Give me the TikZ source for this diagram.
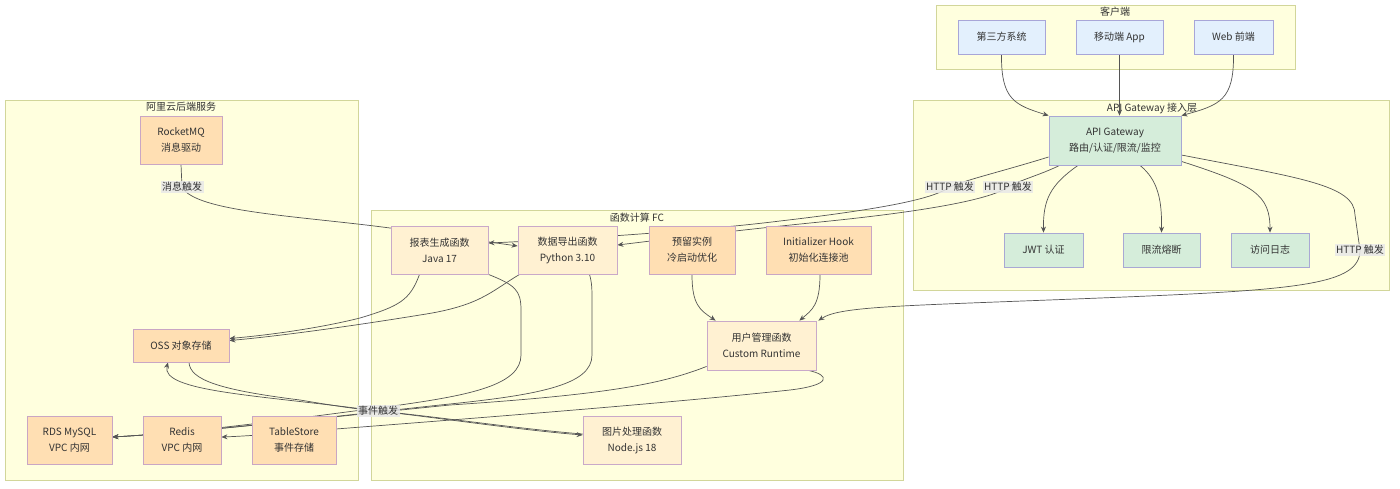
\documentclass[tikz,border=0pt]{standalone}
\usepackage{fontspec}
\setmainfont{Noto Sans CJK SC}
\usetikzlibrary{arrows.meta,calc}
\pgfdeclarelayer{bg}\pgfdeclarelayer{edges}\pgfdeclarelayer{fg}
\pgfsetlayers{bg,edges,main,fg}
\definecolor{clfill}{HTML}{FFFFDE}
\definecolor{cldraw}{HTML}{D2D69A}
\definecolor{txt}{HTML}{333333}
\definecolor{lineC}{HTML}{555555}
\definecolor{blueF}{HTML}{E3F0FD}
\definecolor{blueD}{HTML}{A8A6D8}
\definecolor{greenF}{HTML}{D5EDDA}
\definecolor{greenD}{HTML}{A9A8D4}
\definecolor{orangeF}{HTML}{FFDFB3}
\definecolor{orangeD}{HTML}{C9A6C4}
\definecolor{lightF}{HTML}{FFF1D2}
\definecolor{lightD}{HTML}{C9A9C9}
\definecolor{labF}{HTML}{E8E8E8}
\begin{document}
\begin{tikzpicture}[x=1pt,y=-1pt,
  every node/.style={font=\fontsize{10}{16}\selectfont, text=txt},
  cluster/.style={fill=clfill, draw=cldraw, line width=0.9pt},
  ctitle/.style={inner sep=0pt},
  box/.style={draw, line width=0.8pt, inner sep=0pt, align=center},
  bluebox/.style={box, fill=blueF, draw=blueD},
  greenbox/.style={box, fill=greenF, draw=greenD},
  orangebox/.style={box, fill=orangeF, draw=orangeD},
  lightbox/.style={box, fill=lightF, draw=lightD},
  elabel/.style={fill=labF, fill opacity=0.85, text opacity=1, inner sep=1.5pt},
  edge/.style={draw=lineC, line width=0.7pt, -{Stealth[length=6pt,width=5pt]}}
]
\useasboundingbox (0,0) rectangle (1400,488);

% clusters
\begin{pgfonlayer}{bg}
\fill[white] (0,0) rectangle (1400,488);
\draw[cluster] (936,5) rectangle (1295,69);
\node[ctitle] (tClient) at (1115,12) {客户端};
\draw[cluster] (913,100) rectangle (1389,290);
\node[ctitle] (tGw) at (1152,108) {API Gateway 接入层};
\draw[cluster] (5,100) rectangle (358,480);
\node[ctitle] (tAli) at (181,107) {阿里云后端服务};
\draw[cluster] (371,210) rectangle (903,480);
\node[ctitle] (tFc) at (637,218) {函数计算 FC};
\end{pgfonlayer}

% nodes
\node[bluebox, minimum width=87pt, minimum height=34pt] (third) at (1001.5,37) {第三方系统};
\node[bluebox, minimum width=87pt, minimum height=34pt] (mobile) at (1119.5,37) {移动端 App};
\node[bluebox, minimum width=79pt, minimum height=34pt] (web) at (1233.5,37) {Web 前端};
\node[greenbox, minimum width=132pt, minimum height=49pt] (apigw) at (1115,140.5) {API Gateway\\路由/认证/限流/监控};
\node[greenbox, minimum width=79pt, minimum height=34pt] (jwt) at (1043.5,250) {JWT 认证};
\node[greenbox, minimum width=77pt, minimum height=34pt] (limit) at (1161.5,250) {限流熔断};
\node[greenbox, minimum width=78pt, minimum height=34pt] (alog) at (1270,250) {访问日志};

\node[orangebox, minimum width=82pt, minimum height=48pt] (mq) at (181,140) {RocketMQ\\消息驱动};
\node[orangebox, minimum width=96pt, minimum height=33pt] (oss) at (181,345.5) {OSS 对象存储};
\node[orangebox, minimum width=85pt, minimum height=48pt] (rds) at (69.5,440) {RDS MySQL\\VPC 内网};
\node[orangebox, minimum width=78pt, minimum height=48pt] (redis) at (182,440) {Redis\\VPC 内网};
\node[orangebox, minimum width=84pt, minimum height=48pt] (ts) at (294,440) {TableStore\\事件存储};

\node[lightbox, minimum width=97pt, minimum height=48pt] (report) at (439.5,250) {报表生成函数\\Java 17};
\node[lightbox, minimum width=99pt, minimum height=48pt] (export) at (567.5,250) {数据导出函数\\Python 3.10};
\node[orangebox, minimum width=86pt, minimum height=48pt] (reserve) at (692,250) {预留实例\\冷启动优化};
\node[orangebox, minimum width=105pt, minimum height=48pt] (init) at (818.5,250) {Initializer Hook\\初始化连接池};
\node[lightbox, minimum width=109pt, minimum height=49pt] (user) at (761.5,345.5) {用户管理函数\\Custom Runtime};
\node[lightbox, minimum width=98pt, minimum height=48pt] (img) at (632,440) {图片处理函数\\Node.js 18};

% edge labels
\begin{pgfonlayer}{fg}
\node[elabel] (m1) at (182,187) {消息触发};
\node[elabel] (h1) at (950,187) {HTTP 触发};
\node[elabel] (h2) at (1008,187) {HTTP 触发};
\node[elabel] (h3) at (1360,250) {HTTP 触发};
\node[elabel] (e1) at (378,411) {事件触发};
\end{pgfonlayer}

\begin{pgfonlayer}{edges}
% clients -> gateway
\draw[edge] (third.south) .. controls (1001,100) and (1015,105) .. (apigw.north west);
\draw[edge] (mobile.south) -- (mobile.south |- apigw.north);
\draw[edge] (web.south) .. controls (1234,100) and (1220,105) .. (apigw.north east);
% gateway -> plugins
\draw[edge] ($(apigw.south)+(-37,0)$) .. controls (1050,185) and (1043,200) .. (jwt.north);
\draw[edge] ($(apigw.south)+(25,0)$) .. controls (1158,180) and (1162,200) .. (limit.north);
\draw[edge] ($(apigw.south east)+(0,-4)$) .. controls (1255,185) and (1270,195) .. (alog.north);
% HTTP triggers
\draw[edge] ($(apigw.west)+(0,16.5)$) .. controls (1000,172) and (965,180) .. (h1.center)
   .. controls (935,197) and (900,207) .. (780,221)
   .. controls (700,231) and (560,240) .. ($(report.east)+(0,-7)$);
\draw[edge] ($(apigw.south west)+(11,0)$) .. controls (1040,175) and (1020,180) .. (h2.center)
   .. controls (990,200) and (920,212) .. (820,222)
   .. controls (720,232) and (660,240) .. ($(export.east)+(0,-5)$);
\draw[edge] ($(apigw.east)+(0,14.5)$) .. controls (1300,178) and (1355,185) .. (1355,215)
   -- (h3.center) .. controls (1360,285) and (1300,290) .. (1100,298)
   .. controls (900,306) and (840,306) .. ($(user.north east)+(2,0)$);
% message trigger
\draw[edge] (mq.south) -- (m1.center) .. controls (195,212) and (300,216) .. (390,228)
   -- ($(export.west)+(0,-4)$);
% FC internals
\draw[edge] (reserve.south) .. controls (692,305) and (700,310) .. ($(user.north west)+(9,0)$);
\draw[edge] ($(init.south)+(1.5,0)$) .. controls (820,305) and (812,310) .. ($(user.north east)+(-17,0)$);
% to OSS
\draw[edge] ($(report.south)+(-20,0)$) .. controls (410,300) and (400,306) .. (360,318)
   .. controls (320,328) and (270,335) .. ($(oss.east)+(0,-7)$);
\draw[edge] ($(export.south west)+(2,0)$) .. controls (490,292) and (480,306) .. (420,315)
   .. controls (340,328) and (270,337) .. ($(oss.east)+(0,-5)$);
% to RDS
\draw[edge] (report.south east) .. controls (515,285) and (521,290) .. (521,310) -- (521,355)
   .. controls (521,385) and (470,395) .. (400,405)
   .. controls (300,418) and (200,432) .. ($(rds.east)+(0,-3)$);
\draw[edge] ($(export.south)+(22,0)$) .. controls (592,283) and (592,290) .. (592,300) -- (592,355)
   .. controls (592,385) and (540,395) .. (440,405)
   .. controls (320,418) and (200,432) .. ($(rds.east)+(0,-3)$);
\draw[edge] ($(user.south west)+(0,-4)$) .. controls (660,385) and (600,395) .. (450,405)
   .. controls (320,418) and (200,432) .. ($(rds.east)+(0,-3)$);
% to Redis
\draw[edge] ($(user.south east)+(-8,0)$) .. controls (830,375) and (832,385) .. (790,390)
   .. controls (650,405) and (450,420) .. (336,429)
   .. controls (300,432) and (250,436) .. ($(redis.east)+(0,-3)$);
% OSS <-> image
\draw[edge] ($(oss.south)+(8,0)$) .. controls (190,380) and (220,390) .. (300,400)
   .. controls (330,405) and (355,409) .. (e1.center)
   .. controls (440,418) and (520,430) .. ($(img.west)+(0,-5)$);
\draw[edge] ($(img.west)+(0,-6)$) .. controls (520,429) and (440,417) .. (e1.center)
   .. controls (260,395) and (160,392) .. ($(oss.south)+(-13,0)$);
\end{pgfonlayer}
\end{tikzpicture}
\end{document}
